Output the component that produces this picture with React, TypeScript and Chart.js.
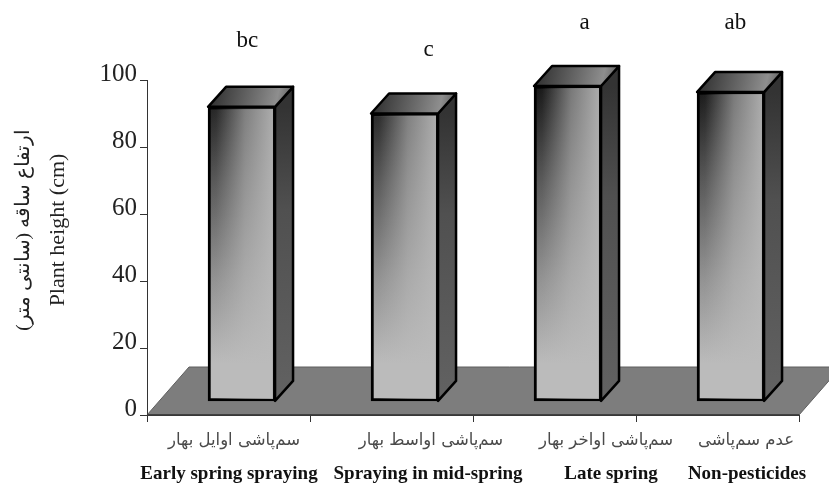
import React, { useEffect, useRef } from "react";
import { Chart, registerables } from "chart.js";

Chart.register(...registerables);

const categoriesFa = ["سم‌پاشی اوایل بهار", "سم‌پاشی اواسط بهار", "سم‌پاشی اواخر بهار", "عدم سم‌پاشی"];
const categoriesEn = ["Early spring spraying", "Spraying in mid-spring", "Late spring", "Non-pesticides"];
const heights = [92, 90, 98.2, 96.4];
const letters = ["bc", "c", "a", "ab"];
const letterLevels = [111.6, 109, 117, 117];
const letterShift = [0.035, 0.147, 0.104, 0.03];
const faShiftPx = [5.5, 39.5, 51.5, 28.5];
const enShiftPx = [0.5, 36.5, 56.5, 29.5];
const yTicks = [0, 20, 40, 60, 80, 100];
const titleFa = "ارتفاع ساقه (سانتی متر)";
const titleEn = "Plant height (cm)";

const SERIF = "'Liberation Serif', serif";
const DEPTH_X = 18;
const DEPTH_Y = 20;
const FLOOR_X = 42;
const FLOOR_Y = 48;

const path = (ctx: CanvasRenderingContext2D, pts: number[][]) => {
  ctx.beginPath();
  pts.forEach(([x, y], i) => (i ? ctx.lineTo(x, y) : ctx.moveTo(x, y)));
  ctx.closePath();
};

const scenePlugin = {
  id: "scene",
  beforeDatasetsDraw(chart: any) {
    const { ctx, chartArea: a } = chart;
    ctx.save();
    path(ctx, [
      [a.left, a.bottom],
      [a.left + FLOOR_X, a.bottom - FLOOR_Y],
      [a.right + FLOOR_X, a.bottom - FLOOR_Y],
      [a.right, a.bottom],
    ]);
    ctx.fillStyle = "#7d7d7d";
    ctx.fill();
    ctx.strokeStyle = "#5f5f5f";
    ctx.lineWidth = 1;
    ctx.stroke();
    ctx.beginPath();
    ctx.moveTo(a.left, a.bottom);
    ctx.lineTo(a.right, a.bottom);
    ctx.strokeStyle = "#333";
    ctx.lineWidth = 1.5;
    ctx.stroke();
    ctx.restore();
  },
  afterDatasetsDraw(chart: any) {
    const { ctx, scales } = chart;
    const meta = chart.getDatasetMeta(0);
    ctx.save();
    meta.data.forEach((bar: any) => {
      const { x, y, base, width } = bar.getProps(["x", "y", "base", "width"], true);
      const l = x - width / 2;
      const r = x + width / 2;
      // lit streak over the front face
      const lit = ctx.createLinearGradient(l, 0, r, 0);
      lit.addColorStop(0, "rgba(187,187,187,0)");
      lit.addColorStop(0.12, "rgba(187,187,187,0.04)");
      lit.addColorStop(0.55, "rgba(187,187,187,0.6)");
      lit.addColorStop(1, "rgba(187,187,187,0.92)");
      ctx.fillStyle = lit;
      ctx.fillRect(l + 2, y + 2, width - 4, base - y - 4);
      // side
      path(ctx, [
        [r, y],
        [r + DEPTH_X, y - DEPTH_Y],
        [r + DEPTH_X, base - DEPTH_Y],
        [r, base],
      ]);
      const side = ctx.createLinearGradient(0, y, 0, base);
      side.addColorStop(0, "#333333");
      side.addColorStop(0.35, "#505050");
      side.addColorStop(1, "#626262");
      ctx.fillStyle = side;
      ctx.fill();
      ctx.strokeStyle = "#000";
      ctx.lineWidth = 2.5;
      ctx.lineJoin = "round";
      ctx.stroke();
      // top
      path(ctx, [
        [l, y],
        [l + DEPTH_X, y - DEPTH_Y],
        [r + DEPTH_X, y - DEPTH_Y],
        [r, y],
      ]);
      const top = ctx.createLinearGradient(l, y - DEPTH_Y, r + DEPTH_X, y);
      top.addColorStop(0, "#2a2a2a");
      top.addColorStop(0.55, "#6e6e6e");
      top.addColorStop(0.8, "#8e8e8e");
      top.addColorStop(1, "#555");
      ctx.fillStyle = top;
      ctx.fill();
      ctx.stroke();
    });

    // significance letters
    ctx.textAlign = "center";
    ctx.textBaseline = "middle";
    ctx.fillStyle = "#111";
    ctx.font = `23px ${SERIF}`;
    letters.forEach((t, i) => {
      ctx.fillText(t, scales.xb.getPixelForValue(i + letterShift[i]), scales.y.getPixelForValue(letterLevels[i]));
    });

    // two-language category labels
    ctx.fillStyle = "#4a4a4a";
    ctx.font = "16.5px 'DejaVu Sans', sans-serif";
    categoriesFa.forEach((t, i) => {
      ctx.fillText(t, scales.x.getPixelForTick(i) + faShiftPx[i], 441);
    });
    ctx.fillStyle = "#111";
    ctx.font = `bold 19px ${SERIF}`;
    categoriesEn.forEach((t, i) => {
      ctx.fillText(t, scales.x.getPixelForTick(i) + enShiftPx[i], 474);
    });

    // axis titles
    ctx.save();
    ctx.translate(24, 230);
    ctx.rotate(-Math.PI / 2);
    ctx.fillStyle = "#222";
    ctx.font = `19.5px ${SERIF}`;
    ctx.fillText(titleFa, 0, 0);
    ctx.restore();
    ctx.save();
    ctx.translate(58, 230);
    ctx.rotate(-Math.PI / 2);
    ctx.fillStyle = "#222";
    ctx.font = `22px ${SERIF}`;
    ctx.fillText(titleEn, 0, 0);
    ctx.restore();
    ctx.restore();
  },
};

export default function App() {
  const ref = useRef<HTMLCanvasElement>(null);
  useEffect(() => {
    if (!ref.current) return;
    const chart = new Chart(ref.current, {
      type: "bar",
      data: {
        labels: categoriesEn,
        datasets: [
          {
            data: heights.map((y, x) => ({ x, y })),
            xAxisID: "xb",
            yAxisID: "y",
            base: 4.2,
            barThickness: 67,
            borderColor: "#000",
            borderWidth: 3,
            borderSkipped: false,
            backgroundColor: (c: any) => {
              const a = c.chart.chartArea;
              if (!a) return "#999";
              const g = c.chart.ctx.createLinearGradient(0, a.top + 10, 0, a.bottom - 14);
              g.addColorStop(0, "#161616");
              g.addColorStop(0.3, "#585858");
              g.addColorStop(0.6, "#909090");
              g.addColorStop(0.88, "#bbbbbb");
              g.addColorStop(1, "#bbbbbb");
              return g;
            },
          } as any,
        ],
      },
      plugins: [scenePlugin],
      options: {
        animation: false,
        responsive: false,
        maintainAspectRatio: false,
        layout: { padding: { top: 80, right: 30, left: 0, bottom: 0 } },
        plugins: { legend: { display: false }, tooltip: { enabled: false } },
        scales: {
          x: {
            type: "category",
            offset: true,
            position: "bottom",
            grid: { offset: true, drawOnChartArea: false, tickLength: 7, color: "#333" },
            border: { color: "#333" },
            ticks: { display: false },
            afterFit: (s: any) => {
              s.height = 69;
            },
          },
          xb: { type: "linear", display: false, min: -0.58, max: 3.42, offset: false },
          y: {
            min: 0,
            max: 100,
            afterBuildTicks: (s: any) => {
              s.ticks = yTicks.map((value) => ({ value }));
            },
            grid: { drawOnChartArea: false, tickLength: 7, color: "#333" },
            border: { color: "#333" },
            ticks: {
              color: "#222",
              padding: 3,
              font: { family: SERIF, size: 25, lineHeight: 0.42 },
              callback: (v: any) => [String(v), ""],
            },
            afterFit: (s: any) => {
              s.width = 147;
            },
          },
        },
      },
    } as any);
    return () => chart.destroy();
  }, []);
  return (
    <div style={{ position: "absolute", left: 0, top: 0, width: 829, height: 484, background: "#fff" }}>
      <canvas ref={ref} width={829} height={484} style={{ display: "block" }} />
    </div>
  );
}
